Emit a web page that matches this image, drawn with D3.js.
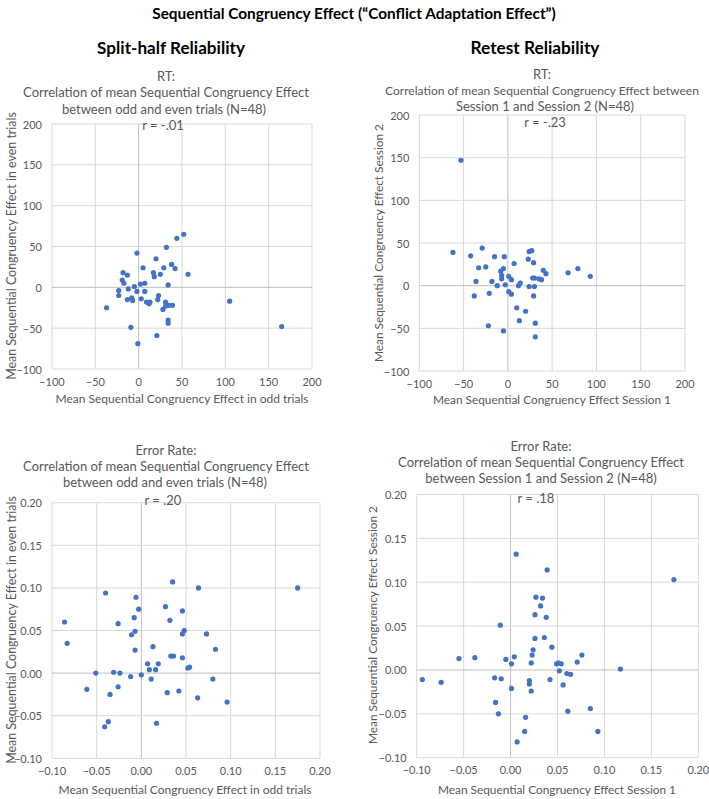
<!DOCTYPE html>
<html>
<head>
<meta charset="utf-8">
<script src="https://cdn.jsdelivr.net/npm/d3@7"></script>
<style>
  html, body { margin: 0; padding: 0; background: #fff; }
  svg { display: block; font-family: Lato, "Open Sans", sans-serif; }
</style>
</head>
<body>
<svg id="chart" width="709" height="799"></svg>
<script>
// ---------- DATA ----------
const rtTicks = [-100, -50, 0, 50, 100, 150, 200];
const erTicks = [-0.10, -0.05, 0.00, 0.05, 0.10, 0.15, 0.20];

// Panel 1: RT split-half (odd trials, even trials)
const rtSplitOdd = [52, 44, 32, -2, 20, 5, 29, 38, 42, 57, 17, 18, 25, -18, -13, -19, -17, -12, -5, 2, 7, 34, -23, -23, -2, 7, -13, -8, -7, 3, 9, 12, 13, 23, 22, 31, 28, 31, 35, 39, 34, 34, -37, -9, 21, -1, 105, 165];
const rtSplitEven = [65, 60, 49, 42, 35, 24, 24, 28, 23, 16, 18, 13, 16, 18, 15, 9, 5, -2, 1, 4, 5, 3, -4, -10, -5, -5, -15, -13, -16, -14, -18, -20, -18, -10, -15, -18, -27, -23, -22, -22, -40, -44, -25, -49, -59, -69, -17, -48];

// Panel 2: RT retest (session 1, session 2)
const rtRetestS1 = [-62, -42, -29, -33, -25, -15, -4, -36, -38, -21, -18, -12, -8, -5, -7, -7, -3, 1, 4, 7, 1, 4, 10, 13, 12, 14, 20, 23, 24, 27, 29, 24, 28, 30, 30, 29, 31, 31, -22, -5, 35, 38, 40, 43, 68, 79, 93, -53];
const rtRetestS2 = [39, 35, 44, 21, 22, 34, 34, 5, -12, -9, 5, 0, 17, 20, 12, 8, 1, 11, 7, 26, -7, -10, -26, -41, 0, 3, -30, 31, 40, 41, 27, -1, 9, 9, -1, -12, -44, -60, -47, -53, 8, 7, 18, 14, 15, 20, 11, 147];

// Panel 3: Error rate split-half (odd trials, even trials)
const erSplitOdd = [-0.086, -0.083, -0.040, -0.026, -0.061, -0.051, -0.035, -0.031, -0.024, -0.026, -0.037, -0.041, -0.012, -0.011, -0.007, -0.008, -0.006, -0.003, -0.007, 0.000, 0.007, 0.009, 0.011, 0.013, 0.016, 0.019, 0.017, 0.027, 0.032, 0.035, 0.033, 0.036, 0.029, 0.042, 0.046, 0.048, 0.046, 0.046, 0.052, 0.054, 0.064, 0.063, 0.073, 0.083, 0.080, 0.096, 0.175];
const erSplitEven = [0.060, 0.035, 0.094, 0.058, -0.019, 0.000, -0.025, 0.001, 0.000, -0.016, -0.057, -0.063, -0.004, 0.045, 0.049, 0.065, 0.089, 0.075, 0.027, -0.002, 0.011, 0.004, -0.007, 0.031, 0.004, 0.011, -0.059, 0.078, 0.062, 0.107, 0.020, 0.020, -0.023, -0.021, 0.073, 0.050, 0.046, 0.018, 0.006, 0.007, 0.100, -0.029, 0.046, 0.028, -0.007, -0.034, 0.100];

// Panel 4: Error rate retest (session 1, session 2)
const erRetestS1 = [-0.094, -0.074, -0.055, -0.038, -0.017, -0.010, -0.011, -0.005, -0.016, -0.013, 0.001, 0.004, 0.001, 0.006, 0.007, 0.015, 0.016, 0.020, 0.020, 0.022, 0.022, 0.023, 0.024, 0.026, 0.026, 0.027, 0.034, 0.032, 0.038, 0.039, 0.036, 0.042, 0.044, 0.049, 0.051, 0.054, 0.052, 0.056, 0.060, 0.064, 0.061, 0.071, 0.076, 0.085, 0.093, 0.117, 0.174];
const erRetestS2 = [-0.011, -0.014, 0.013, 0.014, -0.009, -0.010, 0.051, 0.012, -0.037, -0.050, 0.007, 0.015, -0.021, 0.132, -0.082, -0.070, -0.054, -0.012, -0.016, -0.024, 0.008, 0.017, 0.023, 0.036, 0.063, 0.083, 0.082, 0.073, 0.060, 0.114, 0.037, -0.011, 0.026, 0.007, 0.008, 0.007, -0.001, -0.017, -0.004, -0.005, -0.047, 0.009, 0.017, -0.044, -0.070, 0.001, 0.103];

// ---------- LAYOUT ----------
const svg = d3.select("#chart");
const GRID = "#d9d9d9", ZERO = "#bfbfbf", LABEL = "#595959", DOT = "#4472c4";

function fitText(sel, target) {
  const n = sel.node();
  const w = n.getComputedTextLength();
  const fs = parseFloat(sel.attr("font-size"));
  if (w > 0) sel.attr("font-size", (fs * target / w).toFixed(2));
  return sel;
}

function text(x, y, str, opts) {
  opts = opts || {};
  const t = svg.append("text")
    .attr("x", x).attr("y", y)
    .attr("text-anchor", opts.anchor || "middle")
    .attr("dominant-baseline", "central")
    .attr("font-size", opts.size || 12)
    .attr("font-weight", opts.bold ? "bold" : "normal")
    .attr("fill", opts.fill || LABEL)
    .text(str);
  if (opts.width) fitText(t, opts.width);
  return t;
}

// Headers
text(354, 13, "Sequential Congruency Effect (\u201cConflict Adaptation Effect\u201d)", {bold: true, size: 16, fill: "#000", width: 404});
text(171, 47, "Split-half Reliability", {bold: true, size: 16, fill: "#000", width: 148});
text(535, 47, "Retest Reliability", {bold: true, size: 16, fill: "#000", width: 129});

// common body text size, derived from the widest title line
const probe = text(-500, -500, "Correlation of mean Sequential Congruency Effect", {size: 12, width: 286});
const TS = parseFloat(probe.attr("font-size"));
probe.remove();

const panels = [
  {
    xs: rtSplitOdd, ys: rtSplitEven, ticks: rtTicks, fmt: d3.format("d"),
    x: [52, 312], y: [369, 124],
    titles: [["RT:", 166, 76], ["Correlation of mean Sequential Congruency Effect", 166, 92], ["between odd and even trials (N=48)", 164, 109]],
    r: ["r = -.01", 163, 125],
    xTitle: ["Mean Sequential Congruency Effect in odd trials", 182, 398, 253],
    yTitle: ["Mean Sequential Congruency Effect in even trials", 11, 246, 268]
  },
  {
    xs: rtRetestS1, ys: rtRetestS2, ticks: rtTicks, fmt: d3.format("d"),
    x: [419.3, 685], y: [371, 115],
    titles: [["RT:", 542, 74], ["Correlation of mean Sequential Congruency Effect between", 542, 90, 314], ["Session 1 and Session 2 (N=48)", 545, 106]],
    r: ["r = -.23", 545, 122],
    xTitle: ["Mean Sequential Congruency Effect Session 1", 552, 399, 238],
    yTitle: ["Mean Sequential Congruency Effect Session 2", 378, 243, 238]
  },
  {
    xs: erSplitOdd, ys: erSplitEven, ticks: erTicks, fmt: d3.format(".2f"),
    x: [52, 320], y: [758.3, 502.7],
    titles: [["Error Rate:", 166, 450], ["Correlation of mean Sequential Congruency Effect", 166, 466], ["between odd and even trials (N=48)", 165, 482]],
    r: ["r = .20", 163, 500],
    xTitle: ["Mean Sequential Congruency Effect in odd trials", 185, 789, 253],
    yTitle: ["Mean Sequential Congruency Effect in even trials", 11, 630, 268]
  },
  {
    xs: erRetestS1, ys: erRetestS2, ticks: erTicks, fmt: d3.format(".2f"),
    x: [416.7, 698.3], y: [757.7, 494.5],
    titles: [["Error Rate:", 541, 446], ["Correlation of mean Sequential Congruency Effect", 541, 462], ["between Session 1 and Session 2 (N=48)", 541, 478]],
    r: ["r = .18", 536, 498],
    xTitle: ["Mean Sequential Congruency Effect Session 1", 557, 789, 238],
    yTitle: ["Mean Sequential Congruency Effect Session 2", 372, 625, 238]
  }
];

panels.forEach(p => {
  const dom = [p.ticks[0], p.ticks[p.ticks.length - 1]];
  const x = d3.scaleLinear().domain(dom).range(p.x);
  const y = d3.scaleLinear().domain(dom).range(p.y);
  const g = svg.append("g");

  // gridlines
  g.selectAll(".vg").data(p.ticks).join("line")
    .attr("x1", d => x(d)).attr("x2", d => x(d))
    .attr("y1", p.y[0]).attr("y2", p.y[1])
    .attr("stroke", d => Math.abs(d) < 1e-9 ? ZERO : GRID).attr("stroke-width", 1);
  g.selectAll(".hg").data(p.ticks).join("line")
    .attr("y1", d => y(d)).attr("y2", d => y(d))
    .attr("x1", p.x[0]).attr("x2", p.x[1])
    .attr("stroke", d => Math.abs(d) < 1e-9 ? ZERO : GRID).attr("stroke-width", 1);

  // tick labels
  g.selectAll(".xl").data(p.ticks).join("text")
    .attr("x", d => x(d)).attr("y", p.y[0] + 12)
    .attr("text-anchor", "middle").attr("dominant-baseline", "central")
    .attr("font-size", 11).attr("fill", LABEL)
    .text(d => p.fmt(d));
  g.selectAll(".yl").data(p.ticks).join("text")
    .attr("x", p.x[0] - 10).attr("y", d => y(d))
    .attr("text-anchor", "end").attr("dominant-baseline", "central")
    .attr("font-size", 11).attr("fill", LABEL)
    .text(d => p.fmt(d));

  // points
  const pts = p.xs.map((v, i) => [v, p.ys[i]]);
  g.selectAll("circle").data(pts).join("circle")
    .attr("cx", d => x(d[0])).attr("cy", d => y(d[1]))
    .attr("r", 2.6).attr("fill", DOT);

  // titles
  p.titles.forEach(t => text(t[1], t[2], t[0], {size: TS, width: t[3] || null}));
  text(p.r[1], p.r[2], p.r[0], {size: TS});
  text(p.xTitle[1], p.xTitle[2], p.xTitle[0], {size: 12, width: p.xTitle[3]});
  text(p.yTitle[1], p.yTitle[2], p.yTitle[0], {size: 12, width: p.yTitle[3]})
    .attr("transform", `rotate(-90, ${p.yTitle[1]}, ${p.yTitle[2]})`);
});
</script>
</body>
</html>
